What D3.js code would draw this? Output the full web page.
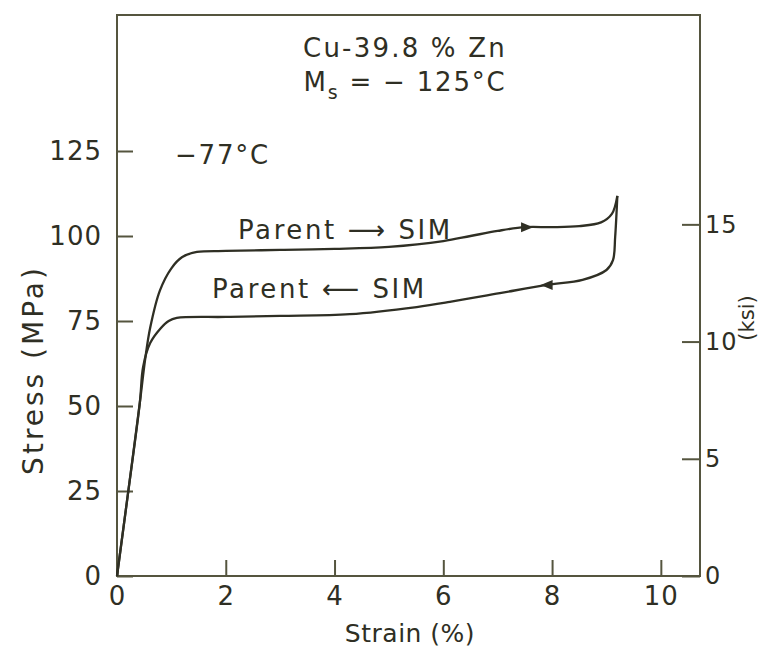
<!DOCTYPE html>
<html>
<head>
<meta charset="utf-8">
<script src="https://cdn.jsdelivr.net/npm/d3@7"></script>
<style>
  body { margin: 0; background: #fff; }
  svg text { font-family: "DejaVu Sans", sans-serif; fill: #2f2f24; }
</style>
</head>
<body>
<div id="chart"></div>
<script>
// strain (%) and stress (MPa)
const loadStrain = [0, 0.2, 0.42, 0.52, 0.61, 0.79, 1.0, 1.2, 1.47, 2.0, 3.0, 4.0, 5.0, 6.0, 6.5, 7.0, 7.5, 8.0, 8.5, 8.9, 9.1, 9.2];
const loadStress = [0, 24, 51, 64, 73, 84, 90.5, 93.8, 95.3, 95.6, 95.9, 96.2, 96.8, 98.5, 100, 101.5, 102.6, 102.6, 102.9, 104, 106.5, 111.8];
const unloadStrain = [9.2, 9.16, 9.12, 9.0, 8.56, 7.9, 7.04, 6.12, 5.51, 4.28, 3.0, 2.0, 1.1, 0.95, 0.8, 0.61, 0.48, 0.42, 0.2, 0];
const unloadStress = [111.8, 99.7, 92.9, 90, 87.1, 85.6, 83.2, 80.6, 79.1, 77.0, 76.5, 76.2, 75.9, 75.0, 72.8, 68.5, 61.5, 51, 24, 0];
const xTicks = [0, 2, 4, 6, 8, 10];
const mpaTicks = [0, 25, 50, 75, 100, 125];
const ksiTicks = [0, 5, 10, 15];
const MPA_PER_KSI = 6.895;

const width = 769, height = 653;
const ink = "#2f2f24", axisInk = "#55553f";

const svg = d3.select("#chart").append("svg")
    .attr("width", width)
    .attr("height", height);

const x = d3.scaleLinear().domain([0, 10.72]).range([117, 700]);
const y = d3.scaleLinear().domain([0, 165]).range([576, 15]);
const yKsi = d3.scaleLinear().domain([0, 165 / MPA_PER_KSI]).range([576, 15]);

// frame
svg.append("rect")
    .attr("x", x(0)).attr("y", y(165))
    .attr("width", x(10.72) - x(0)).attr("height", y(0) - y(165))
    .attr("fill", "none").attr("stroke", axisInk).attr("stroke-width", 2);

function styleAxis(size) {
    return function(g) {
        g.select(".domain").remove();
        g.selectAll(".tick line").attr("stroke", axisInk).attr("stroke-width", 2);
        g.selectAll(".tick text").attr("fill", ink)
            .style("font-size", size + "px").style("letter-spacing", "1px");
    };
}

svg.append("g")
    .attr("transform", "translate(" + x(0) + ",0)")
    .call(d3.axisLeft(y).tickValues(mpaTicks).tickSize(-16).tickPadding(15).tickFormat(d3.format("d")))
    .call(styleAxis(26));

svg.append("g")
    .attr("transform", "translate(0," + y(0) + ")")
    .call(d3.axisBottom(x).tickValues(xTicks).tickSize(-16).tickPadding(11).tickFormat(d3.format("d")))
    .call(styleAxis(26));

svg.append("g")
    .attr("transform", "translate(" + x(10.72) + ",0)")
    .call(d3.axisRight(yKsi).tickValues(ksiTicks).tickSize(-18).tickPadding(5).tickFormat(d3.format("d")))
    .call(styleAxis(24));

// curves
const line = d3.line()
    .x(d => x(d[0]))
    .y(d => y(d[1]))
    .curve(d3.curveCatmullRom.alpha(0.5));

const loadPts = d3.zip(loadStrain, loadStress);
const unloadPts = d3.zip(unloadStrain, unloadStress);

[loadPts, unloadPts].forEach(function(pts) {
    svg.append("path")
        .attr("d", line(pts))
        .attr("fill", "none")
        .attr("stroke", ink)
        .attr("stroke-width", 2.3)
        .attr("stroke-linejoin", "round");
});

// direction arrows on the curves
function arrowHead(sx, sMpa, dir) {
    const cx = x(sx), cy = y(sMpa);
    svg.append("path")
        .attr("d", d3.line()([[cx + 6 * dir, cy], [cx - 6 * dir, cy - 5], [cx - 6 * dir, cy + 5]]) + "Z")
        .attr("fill", ink);
}
arrowHead(7.54, 102.6, 1);
arrowHead(7.9, 85.6, -1);

// annotations
const big = "26px", spacing = "2.2px";

svg.append("text").attr("x", 405).attr("y", 57).attr("text-anchor", "middle")
    .style("font-size", big).style("letter-spacing", spacing).text("Cu-39.8 % Zn");

const ms = svg.append("text").attr("x", 405).attr("y", 91).attr("text-anchor", "middle")
    .style("font-size", big).style("letter-spacing", "1.8px");
ms.append("tspan").text("M");
ms.append("tspan").attr("dy", 8).style("font-size", "19px").text("s");
ms.append("tspan").attr("dy", -8).text(" = − 125°C");

svg.append("text").attr("x", 175).attr("y", 164)
    .style("font-size", big).style("letter-spacing", "1.8px").text("−77°C");

svg.append("text").attr("x", 238).attr("y", 239)
    .style("font-size", big).style("letter-spacing", "2.6px").text("Parent ⟶ SIM");

svg.append("text").attr("x", 212).attr("y", 298)
    .style("font-size", big).style("letter-spacing", "2.6px").text("Parent ⟵ SIM");

// axis titles
svg.append("text")
    .attr("transform", "translate(43,370) rotate(-90)")
    .attr("text-anchor", "middle")
    .style("font-size", "28px").style("letter-spacing", "3px").text("Stress (MPa)");

svg.append("text")
    .attr("x", 410).attr("y", 642).attr("text-anchor", "middle")
    .style("font-size", "25px").style("letter-spacing", "0.5px").text("Strain (%)");

svg.append("text")
    .attr("transform", "translate(754,318) rotate(-90)")
    .attr("text-anchor", "middle")
    .style("font-size", "21px").text("(ksi)");
</script>
</body>
</html>
